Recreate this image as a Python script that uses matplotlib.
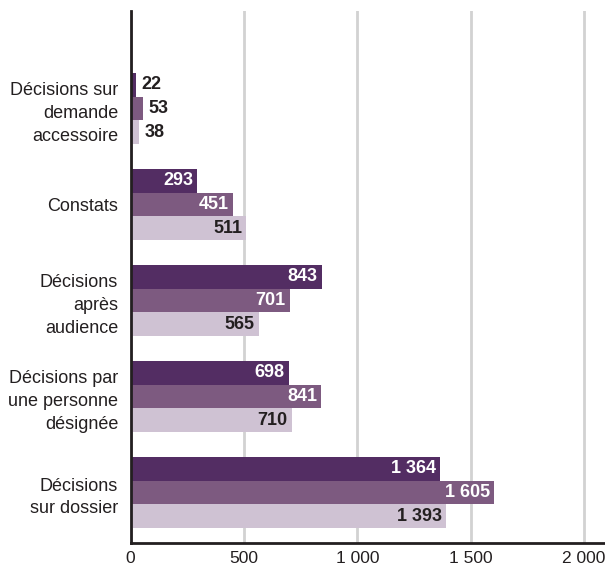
import numpy as np
import matplotlib.pyplot as plt
from matplotlib import font_manager

# --- data ---
categories = ["Décisions sur\ndemande\naccessoire", "Constats", "Décisions\naprès\naudience",
              "Décisions par\nune personne\ndésignée", "Décisions\nsur dossier"]
serie_1 = [22, 293, 843, 698, 1364]
serie_2 = [53, 451, 701, 841, 1605]
serie_3 = [38, 511, 565, 710, 1393]
x_ticks = [0, 500, 1000, 1500, 2000]
x_tick_labels = ["0", "500", "1 000", "1 500", "2 000"]

colors = ["#532d63", "#7d5a80", "#cfc2d3"]
text_colors = ["white", "white", "#231f20"]

names = {f.name for f in font_manager.fontManager.ttflist}
fam = ["Liberation Sans Narrow", "DejaVu Sans"] if "Liberation Sans Narrow" in names else ["Liberation Sans", "DejaVu Sans"]
plt.rcParams['font.family'] = fam

fig = plt.figure(figsize=(6.05, 5.67), dpi=100)
ax = fig.add_axes([0.216, 0.0423, 0.784, 0.9383])

h = 0.247
pos = np.arange(len(categories))
series = [serie_1, serie_2, serie_3]
for k, vals in enumerate(series):
    y = pos + (k - 1) * h
    ax.barh(y, vals, height=h, color=colors[k], zorder=2)
    for yi, v in zip(y, vals):
        lab = f"{v:,}".replace(",", " ")
        if v > 150:
            ax.annotate(lab, (v, yi), xytext=(-3, 0), textcoords="offset points",
                        ha="right", va="center", fontsize=13, fontweight="bold",
                        color=text_colors[k], zorder=3)
        else:
            ax.annotate(lab, (v, yi), xytext=(4, 0), textcoords="offset points",
                        ha="left", va="center", fontsize=13, fontweight="bold",
                        color="#231f20", zorder=3)

ax.set_ylim(len(categories) - 1 + 0.526, -1.016)
ax.set_xlim(0, 2093)
ax.set_yticks(pos)
ax.set_yticklabels(categories, fontsize=13, color="#231f20", linespacing=1.45,
                   multialignment="right")
ax.set_xticks(x_ticks)
ax.set_xticklabels(x_tick_labels, fontsize=12.5, color="#231f20")
ax.tick_params(axis="y", length=0, pad=9)
ax.tick_params(axis="x", length=0, pad=6)

ax.grid(axis="x", color="#d2d2d2", lw=2, zorder=0)
for s in ["top", "right"]:
    ax.spines[s].set_visible(False)
ax.spines["left"].set_linewidth(2)
ax.spines["bottom"].set_linewidth(2)
ax.spines["left"].set_color("#231f20")
ax.spines["bottom"].set_color("#231f20")

fig.savefig("out.png", dpi=100)
